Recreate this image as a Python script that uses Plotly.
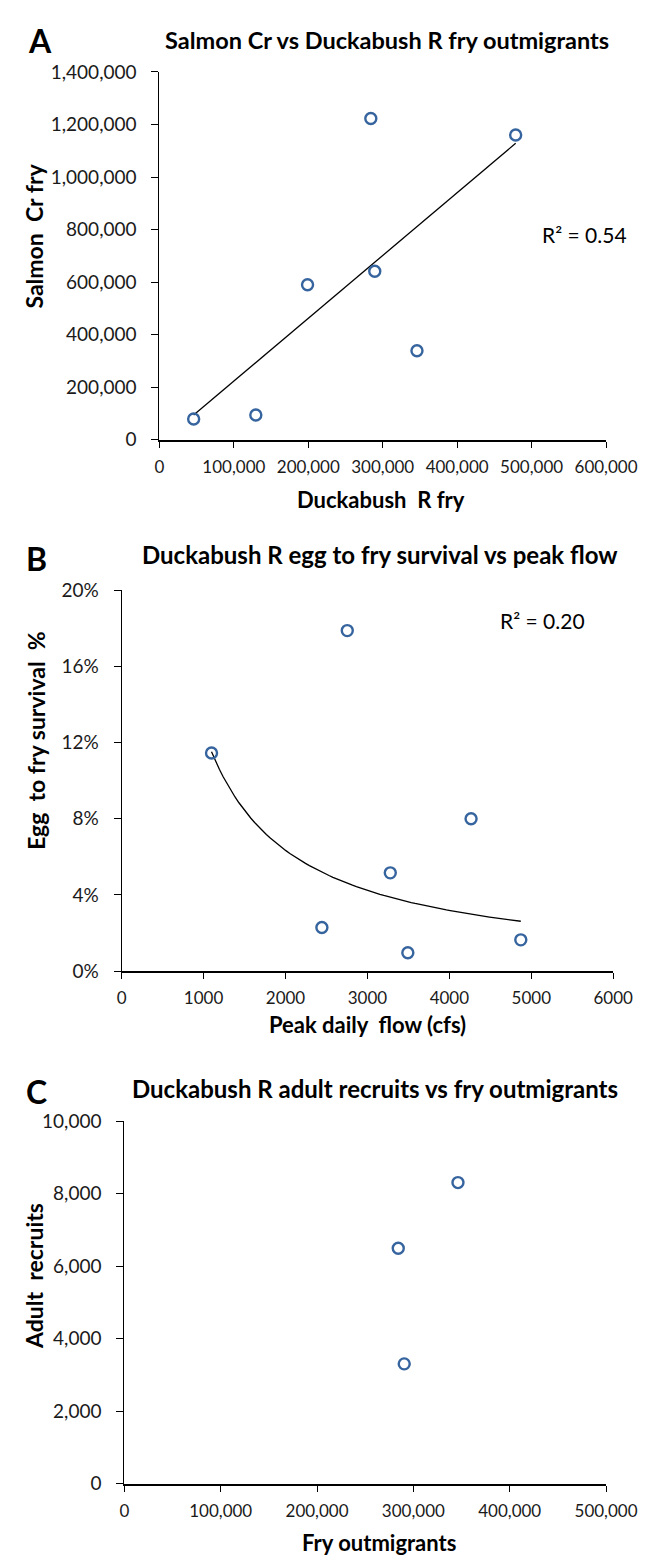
import numpy as np
import plotly.graph_objects as go

# Panel A: Salmon Cr fry vs Duckabush R fry
dk_fry_a = [46000, 129500, 199000, 284000, 289300, 346000, 478600]
salmon_fry = [78800, 93800, 590000, 1222600, 641300, 338700, 1160000]

# Panel B: egg to fry survival vs peak daily flow
peak_flow = [1097, 2754, 4265, 3279, 2444, 3493, 4872]
survival = [0.1146, 0.1789, 0.0800, 0.0516, 0.0229, 0.0096, 0.0164]

# Panel C: adult recruits vs fry outmigrants
fry_c = [346300, 284300, 290500]
recruits = [8307, 6495, 3307]

W, H = 661, 1558
FONT = "Lato"
MARK = "#36649e"


def px(x):
    return x / W


def py(y):
    return 1 - y / H


fig = go.Figure()

marker = dict(symbol="circle-open", size=11, color=MARK, line=dict(width=2.4, color=MARK))

# linear trendline for A
m, b = np.polyfit(dk_fry_a, salmon_fry, 1)
xa = np.array([min(dk_fry_a), max(dk_fry_a)])
fig.add_trace(go.Scatter(x=xa, y=m * xa + b, mode="lines", line=dict(color="black", width=1.3),
                         xaxis="x", yaxis="y"))
fig.add_trace(go.Scatter(x=dk_fry_a, y=salmon_fry, mode="markers", marker=marker,
                         xaxis="x", yaxis="y", cliponaxis=False))

# power trendline for B
pb, pa = np.polyfit(np.log(peak_flow), np.log(survival), 1)
xb = np.linspace(min(peak_flow), max(peak_flow), 80)
fig.add_trace(go.Scatter(x=xb, y=np.exp(pa) * xb ** pb, mode="lines", line=dict(color="black", width=1.3),
                         xaxis="x2", yaxis="y2"))
fig.add_trace(go.Scatter(x=peak_flow, y=survival, mode="markers", marker=marker,
                         xaxis="x2", yaxis="y2", cliponaxis=False))

fig.add_trace(go.Scatter(x=fry_c, y=recruits, mode="markers", marker=marker,
                         xaxis="x3", yaxis="y3", cliponaxis=False))


def xax(dom, rng, dtick, fmt, anchor):
    return dict(domain=dom, range=rng, dtick=dtick, tickformat=fmt, anchor=anchor, tickangle=0,
                showgrid=False, zeroline=False, showline=True, linecolor="black", linewidth=1.8,
                ticks="outside", ticklen=6, tickcolor="black", tickwidth=1,
                tickfont=dict(family=FONT, size=17, color="#1a1a1a"),
                ticklabelstandoff=5, fixedrange=True)


def yax(dom, rng, dtick, fmt, anchor):
    return dict(domain=dom, range=rng, dtick=dtick, tickformat=fmt, anchor=anchor,
                showgrid=False, zeroline=False, showline=True, linecolor="black", linewidth=1.2,
                ticks="outside", ticklen=7, tickcolor="black", tickwidth=1,
                tickfont=dict(family=FONT, size=19, color="#1a1a1a"),
                ticklabelstandoff=11, fixedrange=True)


fig.update_layout(
    width=W, height=H, margin=dict(l=0, r=0, t=0, b=0),
    paper_bgcolor="white", plot_bgcolor="white", showlegend=False,
    xaxis=xax([px(155.1), px(628.2)], [0, 600000], 100000, ",d", "y"),
    yaxis=yax([py(426), py(52.7)], [0, 1400000], 200000, ",d", "x"),
    xaxis2=xax([px(115.1), px(635.8)], [0, 6000], 1000, "d", "y2"),
    yaxis2=yax([py(965.3), py(579)], [0, 0.20], 0.04, ".0%", "x2"),
    xaxis3=xax([px(118.0), px(628.2)], [0, 500000], 100000, ",d", "y3"),
    yaxis3=yax([py(1485.7), py(1117.7)], [0, 10000], 2000, ",d", "x3"),
)

ann = []


def text(x, y, s, size, bold=False, angle=0):
    ann.append(dict(x=px(x), y=py(y), xref="paper", yref="paper", text=f"<b>{s}</b>" if bold else s,
                    showarrow=False, xanchor="center", yanchor="middle", textangle=angle,
                    font=dict(family=FONT, size=size, color="black")))


# panel letters
text(29, 21, "A", 32, True)
text(25, 547, "B", 32, True)
text(25, 1088, "C", 32, True)

# titles
text(396, 20, "Salmon Cr vs Duckabush R fry outmigrants", 23.5, True)
text(389, 543, "Duckabush R egg to fry survival vs peak flow", 24, True)
text(383, 1085, "Duckabush R adult recruits vs fry outmigrants", 24, True)

# axis titles
text(22, 219, "Salmon  Cr fry", 23, True, -90)
text(390, 487, "Duckabush  R fry", 22, True)
text(25, 731, "Egg  to fry survival  %", 23, True, -90)
text(376, 1020, "Peak daily  flow (cfs)", 22, True)
text(22, 1275, "Adult  recruits", 23, True, -90)
text(388, 1545, "Fry outmigrants", 22, True)

# R squared labels
text(605, 218, "R² = 0.54", 21)
text(561, 610, "R² = 0.20", 21)

fig.update_layout(annotations=ann)

fig.write_html("out.html")
